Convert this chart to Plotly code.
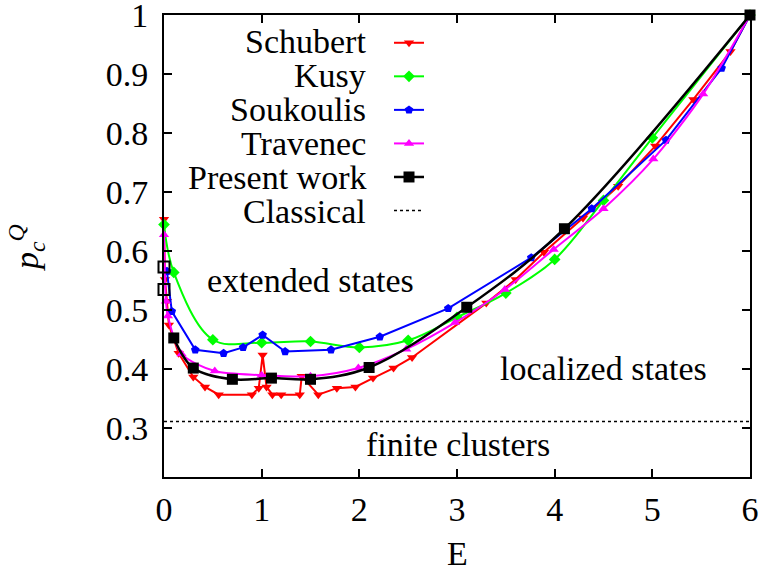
import plotly.graph_objects as go

# ---------------- data ----------------
schubert_E = [0.0, 0.01, 0.03, 0.05, 0.15, 0.30, 0.42, 0.56, 0.90, 0.97, 1.01, 1.05, 1.11, 1.20,
              1.39, 1.41, 1.58, 1.77, 1.96, 2.14, 2.35, 2.54, 3.30, 3.60, 3.89, 4.29, 4.65,
              5.03, 5.42, 5.80, 6.0]
schubert_p = [0.654, 0.552, 0.515, 0.475, 0.427, 0.387, 0.370, 0.357, 0.357, 0.368, 0.424, 0.370,
              0.357, 0.357, 0.357, 0.388, 0.357, 0.368, 0.370, 0.385, 0.402, 0.420, 0.512,
              0.552, 0.598, 0.656, 0.710, 0.778, 0.857, 0.938, 1.0]

kusy_E = [0.0, 0.1, 0.5, 1.0, 1.5, 2.0, 2.5, 3.0, 3.5, 4.0, 4.5, 5.0, 6.0]
kusy_p = [0.645, 0.564, 0.450, 0.445, 0.447, 0.437, 0.449, 0.488, 0.529, 0.586, 0.686, 0.792, 1.0]

soukoulis_E = [0.03, 0.08, 0.32, 0.61, 0.81, 1.01, 1.24, 1.71, 2.21, 2.91, 3.76, 4.38, 5.14, 5.71, 6.0]
soukoulis_p = [0.566, 0.498, 0.433, 0.427, 0.437, 0.458, 0.430, 0.433, 0.455, 0.503, 0.589,
               0.672, 0.788, 0.910, 1.0]

travenec_E = [0.0, 0.02, 0.04, 0.18, 0.52, 1.0, 1.5, 1.99, 2.48, 2.98, 3.49, 3.99, 4.50, 5.01, 5.52, 6.0]
travenec_p = [0.628, 0.515, 0.490, 0.426, 0.397, 0.390, 0.388, 0.402, 0.434, 0.479, 0.535,
              0.603, 0.672, 0.756, 0.866, 1.0]

present_E = [0.1, 0.3, 0.7, 1.1, 1.5, 2.1, 3.1, 4.1, 6.0]
present_p = [0.453, 0.402, 0.383, 0.385, 0.383, 0.403, 0.505, 0.638, 1.0]

present_open_E = [0.0, 0.0]
present_open_p = [0.573, 0.535]

classical_E = [0.0, 6.0]
classical_p = [0.3116, 0.3116]

legend_labels = ["Schubert", "Kusy", "Soukoulis", "Travenec", "Present work", "Classical"]

x_ticks = [0, 1, 2, 3, 4, 5, 6]
y_ticks = [0.3, 0.4, 0.5, 0.6, 0.7, 0.8, 0.9, 1.0]
y_ticklabels = ["0.3", "0.4", "0.5", "0.6", "0.7", "0.8", "0.9", "1"]

# ---------------- figure ----------------
FONT = "Liberation Serif"
FS = 34
W, H = 764, 577
ML, MR, MT, MB = 164, 14, 15, 100
PW, PH = W - ML - MR, H - MT - MB

fig = go.Figure()

NB = "\u00a0"

fig.add_trace(go.Scatter(x=schubert_E, y=schubert_p, mode="lines+markers", name=NB,
                         line=dict(color="#ff0000", width=2),
                         marker=dict(symbol="triangle-down", size=9, color="#ff0000"),
                         cliponaxis=False))
fig.add_trace(go.Scatter(x=kusy_E, y=kusy_p, mode="lines+markers", name=NB * 2,
                         line=dict(color="#00ff00", width=2, shape="spline", smoothing=1.0),
                         marker=dict(symbol="diamond", size=9, color="#00ff00"),
                         cliponaxis=False))
fig.add_trace(go.Scatter(x=soukoulis_E, y=soukoulis_p, mode="lines+markers", name=NB * 3,
                         line=dict(color="#0000ff", width=2),
                         marker=dict(symbol="pentagon", size=9, color="#0000ff"),
                         cliponaxis=False))
fig.add_trace(go.Scatter(x=travenec_E, y=travenec_p, mode="lines+markers", name=NB * 4,
                         line=dict(color="#ff00ff", width=2, shape="spline", smoothing=0.8),
                         marker=dict(symbol="triangle-up", size=9, color="#ff00ff"),
                         cliponaxis=False))
fig.add_trace(go.Scatter(x=present_E, y=present_p, mode="lines+markers", name=NB * 5,
                         line=dict(color="#000000", width=2.5, shape="spline", smoothing=1.0),
                         marker=dict(symbol="square", size=11, color="#000000"),
                         cliponaxis=False))
fig.add_trace(go.Scatter(x=classical_E, y=classical_p, mode="lines", name=NB * 6,
                         line=dict(color="#000000", width=1.5, dash="dot"),
                         cliponaxis=False))
fig.add_trace(go.Scatter(x=present_open_E, y=present_open_p, mode="markers", showlegend=False,
                         marker=dict(symbol="square-open", size=11, color="#000000",
                                     line=dict(width=2)),
                         cliponaxis=False))

def px_to_paper_x(px):
    return (px - ML) / PW

def px_to_paper_y(py):
    return 1 - (py - MT) / PH

annotations = []
legend_rows = [41.7, 75.7, 109.3, 143.3, 177.3, 211.0]
for lab, ry in zip(legend_labels, legend_rows):
    annotations.append(dict(x=px_to_paper_x(368), y=px_to_paper_y(ry), xref="paper", yref="paper",
                            text=lab, showarrow=False, xanchor="right", yanchor="middle",
                            font=dict(family=FONT, size=FS, color="black")))

annotations += [
    dict(x=1.505, y=0.55, xref="x", yref="y", text="extended states", showarrow=False,
         yanchor="middle", font=dict(family=FONT, size=FS, color="black")),
    dict(x=4.5, y=0.402, xref="x", yref="y", text="localized states", showarrow=False,
         yanchor="middle", font=dict(family=FONT, size=FS, color="black")),
    dict(x=3.01, y=0.272, xref="x", yref="y", text="finite clusters", showarrow=False,
         yanchor="middle", font=dict(family=FONT, size=FS, color="black")),
    dict(x=px_to_paper_x(27), y=px_to_paper_y(248), xref="paper", yref="paper",
         text="<i>p</i><sub><i>c</i></sub><sup><i>Q</i></sup>", showarrow=False, textangle=-90,
         xanchor="center", yanchor="middle", font=dict(family=FONT, size=FS, color="black")),
    dict(x=0.5, y=px_to_paper_y(553), xref="paper", yref="paper", text="E", showarrow=False,
         xanchor="center", yanchor="middle", font=dict(family=FONT, size=FS, color="black")),
]

axis_common = dict(showgrid=False, zeroline=False, showline=True, linecolor="black", linewidth=2,
                   ticks="inside", ticklen=8, tickwidth=2, tickcolor="black", mirror="allticks",
                   ticklabeloverflow="allow", automargin=False,
                   tickfont=dict(family=FONT, size=FS, color="black"))

fig.update_layout(
    width=W, height=H,
    margin=dict(l=ML, r=MR, t=MT, b=MB, autoexpand=False),
    paper_bgcolor="white", plot_bgcolor="white",
    font=dict(family=FONT, size=FS, color="black"),
    xaxis=dict(range=[0, 6], tickvals=x_ticks, ticklabelstandoff=1, **axis_common),
    yaxis=dict(range=[0.2175, 1.0], tickvals=y_ticks, ticktext=y_ticklabels,
               ticklabelstandoff=7, **axis_common),
    showlegend=True,
    hovermode=False,
    legend=dict(x=px_to_paper_x(389), y=px_to_paper_y(21), xanchor="left", yanchor="top",
                bgcolor="rgba(0,0,0,0)", borderwidth=0, font=dict(family=FONT, size=23.5),
                tracegroupgap=0, itemwidth=30),
    annotations=annotations,
)

fig.write_html("out.html", config={"displayModeBar": False},
               post_script="document.body.style.margin='0px';")
